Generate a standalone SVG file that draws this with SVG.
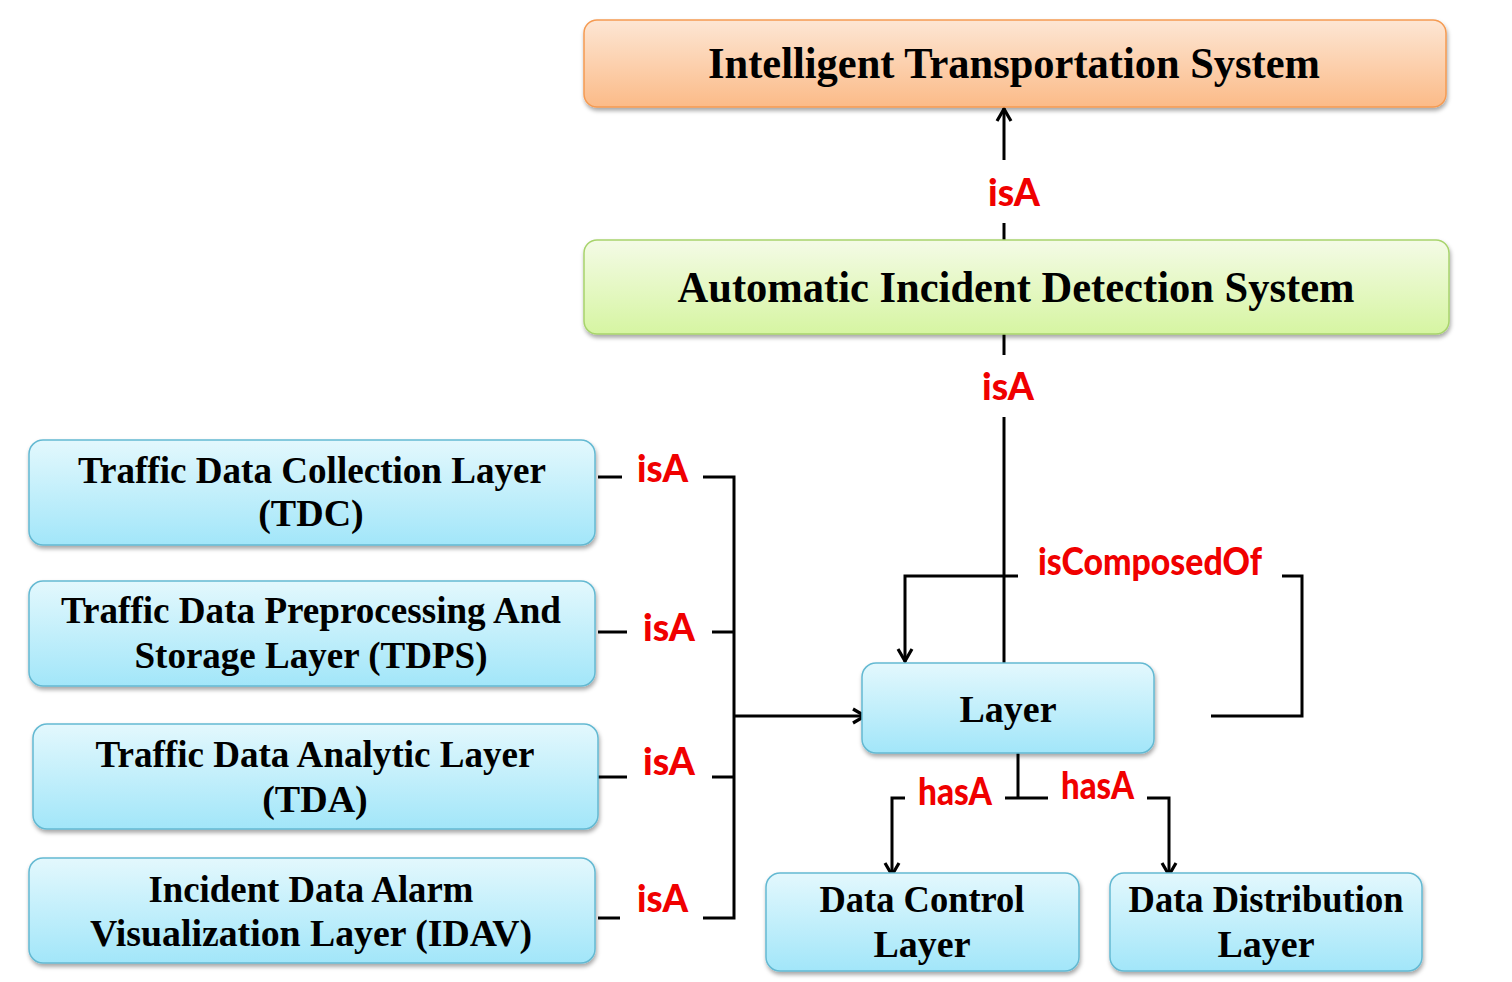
<svg xmlns="http://www.w3.org/2000/svg" width="1512" height="982" viewBox="0 0 1512 982">
<defs>
  <linearGradient id="gOrange" x1="0" y1="0" x2="0" y2="1">
    <stop offset="0" stop-color="#fde6d4"/>
    <stop offset="1" stop-color="#fbbb88"/>
  </linearGradient>
  <linearGradient id="gGreen" x1="0" y1="0" x2="0" y2="1">
    <stop offset="0" stop-color="#f4fbe6"/>
    <stop offset="1" stop-color="#d6f5a2"/>
  </linearGradient>
  <linearGradient id="gBlue" x1="0" y1="0" x2="0" y2="1">
    <stop offset="0" stop-color="#e3f8fd"/>
    <stop offset="1" stop-color="#a2e6f9"/>
  </linearGradient>
  <filter id="shadow" x="-5%" y="-10%" width="110%" height="130%">
    <feDropShadow dx="1" dy="3" stdDeviation="2" flood-color="#000" flood-opacity="0.35"/>
  </filter>
  <marker id="arrow" markerUnits="userSpaceOnUse" markerWidth="20" markerHeight="20" refX="14" refY="10" orient="auto" overflow="visible">
    <path d="M1,3 L13,10 L1,17" fill="none" stroke="#000" stroke-width="3.2" stroke-linejoin="miter"/>
  </marker>
</defs>
<style>
  .node-o { fill: url(#gOrange); stroke: #f59b52; stroke-width: 1.5; filter: url(#shadow); }
  .node-g { fill: url(#gGreen); stroke: #a8d46c; stroke-width: 1.5; filter: url(#shadow); }
  .node-b { fill: url(#gBlue); stroke: #64b9d2; stroke-width: 1.5; filter: url(#shadow); }
  .t { font-family: "Liberation Serif", "Times New Roman", serif; font-weight: bold; fill: #000; text-anchor: middle; }
  .title { font-size: 44px; }
  .lbl { font-size: 38px; }
  .rel { font-family: Lato, "Open Sans", "Liberation Sans", sans-serif; font-weight: 900; font-size: 37px; fill: #f00000; }
  .c { fill: none; stroke: #000; stroke-width: 3; }
</style>
<rect width="1512" height="982" fill="#fff"/>

<g id="connectors">
  <path class="c" d="M1004,160 L1004,108" marker-end="url(#arrow)"/>
  <path class="c" d="M1004,223 L1004,240"/>
  <path class="c" d="M1004,334 L1004,355"/>
  <path class="c" d="M1004,417 L1004,663"/>
  <path class="c" d="M1018,576 L905,576 L905,662" marker-end="url(#arrow)"/>
  <path class="c" d="M1282,576 L1302,576 L1302,716 L1211,716"/>
  <path class="c" d="M598,477 L622,477"/>
  <path class="c" d="M598,632 L627,632"/>
  <path class="c" d="M598,777 L627,777"/>
  <path class="c" d="M598,918 L620,918"/>
  <path class="c" d="M703,477 L734,477 L734,918 L703,918"/>
  <path class="c" d="M712,632 L734,632"/>
  <path class="c" d="M712,777 L734,777"/>
  <path class="c" d="M734,716 L866,716" marker-end="url(#arrow)"/>
  <path class="c" d="M1018,753 L1018,798"/>
  <path class="c" d="M1005,798 L1048,798"/>
  <path class="c" d="M905,798 L892,798 L892,876" marker-end="url(#arrow)"/>
  <path class="c" d="M1147,798 L1169,798 L1169,876" marker-end="url(#arrow)"/>
  <text class="rel" x="988" y="206" textLength="52" lengthAdjust="spacingAndGlyphs">isA</text>
  <text class="rel" x="982" y="400" textLength="52" lengthAdjust="spacingAndGlyphs">isA</text>
  <text class="rel" x="637" y="482" textLength="51" lengthAdjust="spacingAndGlyphs">isA</text>
  <text class="rel" x="643" y="641" textLength="52" lengthAdjust="spacingAndGlyphs">isA</text>
  <text class="rel" x="643" y="775" textLength="52" lengthAdjust="spacingAndGlyphs">isA</text>
  <text class="rel" x="637" y="912" textLength="51" lengthAdjust="spacingAndGlyphs">isA</text>
  <text class="rel" x="1038" y="575" textLength="224" lengthAdjust="spacingAndGlyphs">isComposedOf</text>
  <text class="rel" x="918" y="805" textLength="74" lengthAdjust="spacingAndGlyphs">hasA</text>
  <text class="rel" x="1061" y="799" textLength="73" lengthAdjust="spacingAndGlyphs">hasA</text>
</g>

<g id="its">
  <rect class="node-o" x="584" y="20" width="862" height="87" rx="13"/>
  <text class="t title" x="1014" y="78" textLength="612" lengthAdjust="spacingAndGlyphs">Intelligent Transportation System</text>
</g>
<g id="aids">
  <rect class="node-g" x="584" y="240" width="865" height="94" rx="13"/>
  <text class="t title" x="1016" y="302" textLength="677" lengthAdjust="spacingAndGlyphs">Automatic Incident Detection System</text>
</g>
<g id="tdc">
  <rect class="node-b" x="29" y="440" width="566" height="105" rx="14"/>
  <text class="t lbl" x="312" y="483" textLength="468" lengthAdjust="spacingAndGlyphs">Traffic Data Collection  Layer</text>
  <text class="t lbl" x="311" y="526">(TDC)</text>
</g>
<g id="tdps">
  <rect class="node-b" x="29" y="581" width="566" height="105" rx="14"/>
  <text class="t lbl" x="311" y="623" textLength="500" lengthAdjust="spacingAndGlyphs">Traffic Data Preprocessing And</text>
  <text class="t lbl" x="311" y="668" textLength="353" lengthAdjust="spacingAndGlyphs">Storage Layer (TDPS)</text>
</g>
<g id="tda">
  <rect class="node-b" x="33" y="724" width="565" height="105" rx="14"/>
  <text class="t lbl" x="315" y="767" textLength="439" lengthAdjust="spacingAndGlyphs">Traffic Data Analytic  Layer</text>
  <text class="t lbl" x="315" y="812">(TDA)</text>
</g>
<g id="idav">
  <rect class="node-b" x="29" y="858" width="566" height="105" rx="14"/>
  <text class="t lbl" x="311" y="902" textLength="325" lengthAdjust="spacingAndGlyphs">Incident Data Alarm</text>
  <text class="t lbl" x="311" y="946" textLength="442" lengthAdjust="spacingAndGlyphs">Visualization  Layer  (IDAV)</text>
</g>
<g id="layer">
  <rect class="node-b" x="862" y="663" width="292" height="90" rx="14"/>
  <text class="t lbl" x="1008" y="722">Layer</text>
</g>
<g id="dcl">
  <rect class="node-b" x="766" y="873" width="313" height="98" rx="14"/>
  <text class="t lbl" x="922" y="912" textLength="205" lengthAdjust="spacingAndGlyphs">Data Control</text>
  <text class="t lbl" x="922" y="957">Layer</text>
</g>
<g id="ddl">
  <rect class="node-b" x="1110" y="873" width="312" height="98" rx="14"/>
  <text class="t lbl" x="1266" y="912" textLength="275" lengthAdjust="spacingAndGlyphs">Data Distribution</text>
  <text class="t lbl" x="1266" y="957">Layer</text>
</g>
</svg>
